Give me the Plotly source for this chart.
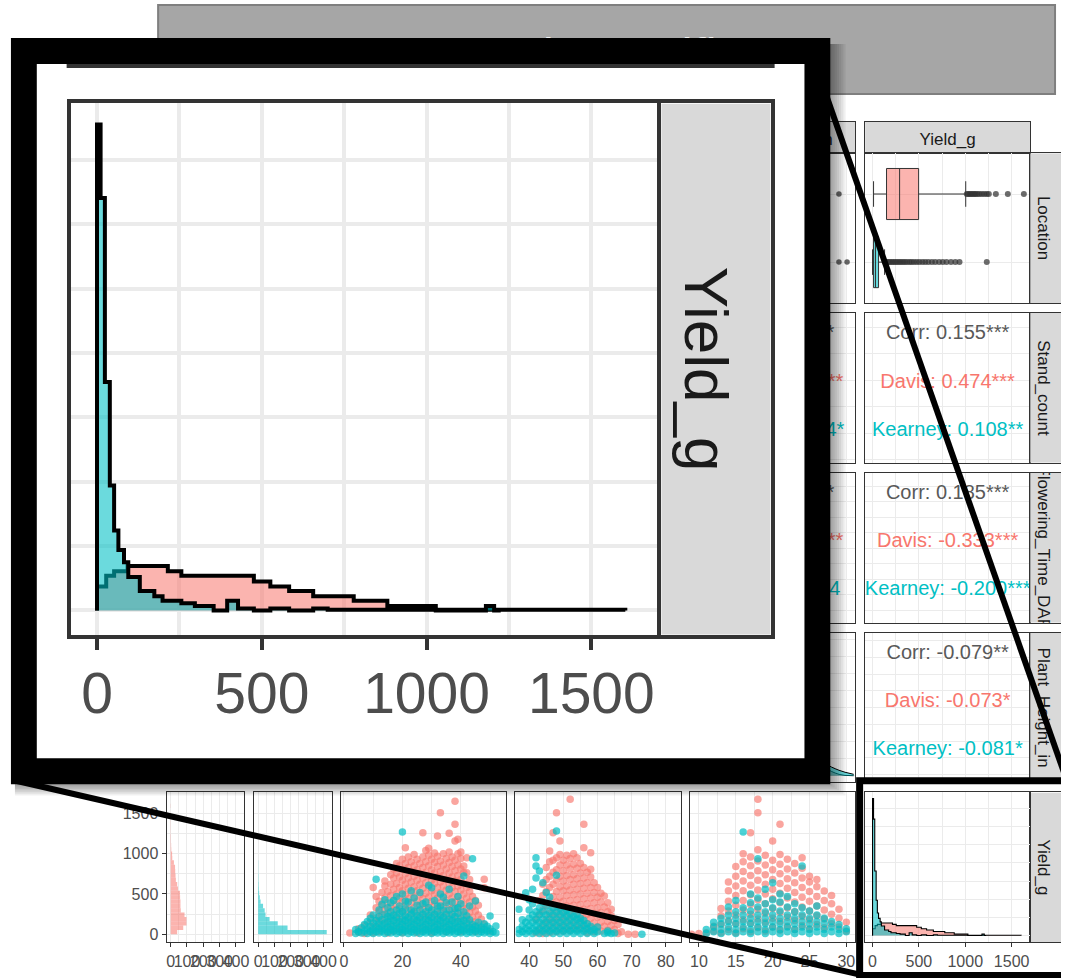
import plotly.graph_objects as go

W, H = 1066, 979
FONT = "Liberation Sans, Arial, sans-serif"
PINK, TEAL = "#F8766D", "#00BFC4"
PINK_FILL, TEAL_FILL = "rgba(248,118,109,0.55)", "rgba(0,191,196,0.58)"
PINK_PT, TEAL_PT = "rgba(248,118,109,0.66)", "rgba(0,191,196,0.7)"
GRID, BORDER, STRIP_BG = "#EBEBEB", "#333333", "#D9D9D9"
AX_TXT, STRIP_TXT, CORR_TXT = "#4D4D4D", "#1A1A1A", "#595959"

# ---------------- data ----------------
title_text = "Trait specific"
row_vars = ["Location", "Stand_count", "Flowering_Time_DAP", "Plant_Height_in", "Yield_g"]
top_strips = ["Plant_Height_in", "Yield_g"]

corr_yield_stand = ["Corr: 0.155***", "Davis: 0.474***", "Kearney: 0.108**"]
corr_yield_flower = ["Corr: 0.185***", "Davis: -0.333***", "Kearney: -0.200***"]
corr_yield_height = ["Corr: -0.079**", "Davis: -0.073*", "Kearney: -0.081*"]
corr_height_stand = ["Corr: 0.297***", "Davis: -0.351***", "Kearney: 0.094*"]
corr_height_flower = ["Corr: 0.172***", "Davis: -0.208***", "Kearney: 0.054"]

# boxplot Yield_g by Location (Davis, Kearney)
yield_q1 = [151, 11]
yield_median = [292, 32]
yield_q3 = [497, 65]
yield_lowerfence = [11, 0]
yield_upperfence = [1005, 130]
yield_out_davis = [1016, 1032, 1048, 1063, 1080, 1096, 1112, 1130, 1152, 1178, 1205, 1232, 1254, 1330, 1459, 1632]
yield_out_kearney = [136, 152, 171, 188, 207, 226, 246, 265, 287, 306, 328, 349, 372, 398, 421, 447,
                     476, 505, 538, 569, 602, 640, 676, 718, 757, 798, 846, 893, 938, 1232]
height_out_davis = [29.0]
height_out_kearney = [29.0, 30.1]

# histograms of Yield_g faceted by Location
hist_bin_mid = [27, 81, 135, 189, 243, 297, 351, 405, 459, 513, 567, 621, 675, 729, 783,
                837, 891, 945, 999, 1053, 1107, 1161, 1215, 1269, 1323, 1377, 1431, 1485, 1539, 1593]
hist_davis = [40, 77, 97, 97, 85, 62, 60, 60, 58, 57, 45, 40, 32, 30, 28, 27, 20, 10, 9, 4,
              3, 2, 2, 1, 1, 1, 1, 1, 0, 1]
hist_kearney = [420, 180, 120, 70, 45, 40, 30, 15, 10, 6, 4, 3, 2, 2, 1, 1, 1, 0, 0, 0,
                0, 0, 1, 0, 0, 0, 0, 0, 0, 0]

# density of Yield_g (diagonal)
dens_davis_x = [0, 0, 28, 52, 93, 215, 256, 476, 526, 583, 656, 779, 881, 1028, 1603]
dens_davis_y = [0, 0.37, 0.54, 0.61, 0.69, 0.61, 0.54, 0.45, 0.37, 0.30, 0.22, 0.15, 0.07, 0.01, 0.0]
dens_kearney_x = [0, 0, 11, 24, 39, 52, 65, 82, 95, 130, 174, 199, 256, 297, 354, 395, 428, 476,
                  526, 583, 656, 700, 779, 1028, 1180, 1205, 1225]
dens_kearney_y = [0, 7.55, 6.41, 3.55, 1.94, 1.24, 0.94, 0.75, 0.52, 0.30, 0.22, 0.15, 0.11, 0.07,
                  0.0, 0.15, 0.03, 0.0, 0.03, 0.0, 0.03, 0.01, 0.01, 0.0, 0.07, 0.0, 0.0]

# density of Plant_Height_in (diagonal, mostly hidden)
ph_grid = [9, 11, 13, 15, 17, 19, 21, 23, 25, 27, 29, 31]
ph_dens_davis = [0.0, 0.03, 0.15, 0.45, 0.8, 0.95, 0.9, 0.62, 0.3, 0.07, 0.01, 0.0]
ph_dens_kearney = [0.02, 0.1, 0.32, 0.62, 0.92, 1.0, 0.82, 0.55, 0.28, 0.1, 0.04, 0.01]

# scatter: Stand_count vs Yield_g
stand_davis = {2: [15], 5: [25, 70], 7: [10, 110], 9: [45, 150, 240], 10: [20, 95, 580],
    11: [90, 200, 330, 470], 12: [35, 160, 280, 410], 13: [120, 240, 360, 520],
    14: [60, 190, 310, 450, 600, 662], 15: [15, 140, 260, 390, 530],
    16: [95, 220, 340, 480, 620, 740], 17: [40, 170, 300, 420, 560, 700, 810],
    18: [110, 240, 370, 500, 630, 760, 880], 19: [60, 190, 320, 450, 580, 710, 850],
    20: [20, 150, 280, 410, 540, 670, 800, 930], 21: [100, 230, 360, 490, 620, 750, 880, 1075],
    22: [50, 180, 310, 440, 570, 700, 830, 960], 23: [130, 260, 390, 520, 650, 780, 900],
    24: [70, 200, 330, 460, 590, 720, 850, 990], 25: [20, 150, 280, 410, 540, 670, 800, 930],
    26: [100, 230, 360, 490, 620, 750, 880], 27: [50, 180, 310, 440, 570, 700, 830, 960, 1261],
    28: [120, 250, 380, 510, 640, 770, 900, 1040], 29: [70, 200, 330, 460, 590, 720, 850, 980, 1067],
    30: [20, 150, 280, 410, 540, 670, 800, 930], 31: [110, 240, 370, 500, 630, 760, 890, 1010],
    32: [60, 190, 320, 450, 580, 710, 840, 970, 1220], 33: [130, 260, 390, 520, 650, 780, 910, 1510],
    34: [80, 210, 340, 470, 600, 730, 860, 1000], 35: [30, 160, 290, 420, 550, 680, 810, 940],
    36: [110, 240, 370, 500, 630, 760, 890, 1022, 1253], 37: [60, 190, 320, 450, 580, 710, 840, 960],
    38: [140, 270, 400, 530, 660, 790, 920, 1158, 1365, 1650],
    39: [80, 210, 340, 470, 600, 730, 860, 1000, 1179], 40: [30, 160, 290, 420, 550, 680, 810, 940, 1022],
    41: [110, 240, 370, 500, 630, 765, 848], 42: [60, 190, 320, 450, 580, 765, 951],
    43: [140, 270, 400, 530, 680], 44: [80, 210, 340, 470], 45: [30, 160, 290, 420],
    46: [110, 240, 360], 47: [60, 190], 48: [120, 579, 682], 50: [40]}
stand_kearney = {4: [10, 60], 5: [30], 6: [15, 80], 7: [40, 120], 8: [10, 70, 160], 9: [30, 100, 200],
    10: [10, 60, 140, 240], 11: [35, 90, 170, 682], 12: [15, 70, 130, 220, 300], 13: [40, 100, 180, 372],
    14: [10, 65, 140, 250, 430], 15: [30, 90, 160, 220, 330], 16: [15, 60, 120, 200, 280, 390],
    17: [40, 100, 170, 240, 420], 18: [10, 70, 140, 210, 300, 470], 19: [30, 90, 160, 260, 350],
    20: [15, 60, 120, 190, 280, 500, 1270], 21: [40, 100, 170, 230, 320, 410], 22: [10, 70, 140, 210, 400],
    23: [30, 90, 160, 250, 300, 540], 24: [15, 60, 120, 190, 280, 450], 25: [40, 100, 170, 230, 360],
    26: [10, 70, 140, 210, 300, 520], 27: [30, 90, 160, 250, 380], 28: [15, 60, 120, 190, 280, 400],
    29: [40, 100, 170, 230, 330, 610], 30: [10, 70, 140, 210, 300, 579], 31: [30, 90, 160, 250, 420],
    32: [15, 60, 120, 190, 280, 350], 33: [40, 100, 170, 230, 350, 500], 34: [10, 70, 140, 210, 300, 460],
    35: [30, 90, 160, 250, 390], 36: [15, 60, 120, 190, 300, 560], 37: [40, 100, 170, 250, 400],
    38: [10, 70, 140, 220, 320], 39: [30, 90, 160, 260, 330, 470], 40: [15, 60, 120, 200, 380],
    41: [40, 100, 170, 280, 724], 42: [10, 70, 140, 230], 43: [30, 90, 180, 350], 44: [15, 60, 120, 939],
    45: [40, 100, 413], 46: [10, 70, 150], 47: [30, 90], 48: [15, 60, 130], 49: [40, 100],
    50: [10, 70, 227], 51: [30], 52: [15, 103]}

# scatter: Flowering_Time_DAP vs Yield_g
flower_davis = {42: [20, 180], 43: [60, 250, 420], 44: [10, 130, 300, 480, 620],
    45: [70, 190, 360, 530, 680, 830], 46: [20, 140, 260, 410, 580, 720, 900, 1034],
    47: [80, 200, 330, 470, 620, 770, 920, 1261], 48: [30, 150, 270, 400, 530, 670, 800, 950, 1510],
    49: [90, 210, 340, 460, 590, 720, 860, 990, 1158], 50: [40, 160, 280, 410, 540, 660, 790, 920],
    51: [100, 220, 350, 480, 600, 730, 860, 980], 52: [50, 170, 290, 420, 550, 680, 810, 940, 1675],
    53: [110, 230, 360, 490, 620, 740, 870, 1000], 54: [60, 180, 300, 430, 560, 690, 820, 950],
    55: [120, 240, 370, 500, 630, 760, 880], 56: [70, 190, 310, 440, 570, 700, 830, 1075, 1365],
    57: [20, 130, 250, 380, 510, 640, 770], 58: [80, 200, 320, 450, 580, 710, 806, 1013],
    59: [30, 140, 260, 390, 520, 640], 60: [90, 210, 330, 460, 580], 61: [40, 150, 270, 400, 510],
    62: [100, 220, 340, 476], 63: [50, 160, 280, 390], 64: [110, 230, 310], 65: [60, 170],
    66: [10, 120], 67: [30], 69: [0], 71: [0]}
flower_kearney = {37: [10, 60, 310], 38: [30, 100, 180], 39: [10, 70, 150, 517],
    40: [40, 110, 200, 300, 430], 41: [10, 70, 150, 240, 380, 560], 42: [40, 110, 190, 280, 700, 848, 951],
    43: [10, 70, 150, 240, 330, 786], 44: [40, 110, 190, 280, 400, 640], 45: [10, 70, 150, 240, 350, 520],
    46: [40, 110, 190, 280, 460], 47: [10, 70, 150, 240, 330], 48: [40, 110, 190, 280, 732, 1282],
    49: [10, 70, 150, 240, 320], 50: [40, 110, 190, 270], 51: [10, 70, 150, 230, 300],
    52: [40, 110, 190, 260], 53: [10, 70, 150, 220], 54: [40, 110, 190, 250], 55: [10, 70, 150, 200],
    56: [40, 110, 170], 57: [10, 70, 130], 58: [40, 100], 59: [10, 60], 60: [30, 90], 62: [10],
    63: [20, 40], 64: [10], 65: [15], 73: [0]}

# scatter: Plant_Height_in vs Yield_g
height_davis = {9: [0], 10: [10], 11: [20], 12: [40, 100], 13: [20, 120, 230, 320],
    14: [60, 170, 290, 410, 540, 650], 15: [20, 130, 240, 360, 480, 600, 720, 840],
    16: [70, 180, 300, 420, 540, 660, 780, 900, 1000], 17: [30, 140, 250, 370, 490, 610, 730, 850, 960, 1261],
    18: [80, 190, 310, 430, 550, 670, 790, 910, 1050, 1510, 1675],
    19: [40, 150, 260, 380, 500, 620, 740, 860, 980], 20: [90, 200, 320, 440, 560, 680, 800, 920, 1158],
    21: [50, 160, 270, 390, 510, 630, 750, 870, 990, 1365], 22: [100, 210, 330, 450, 570, 690, 810, 930],
    23: [60, 170, 280, 400, 520, 640, 760, 880], 24: [110, 220, 340, 460, 580, 700, 820, 950],
    25: [70, 180, 290, 410, 530, 650, 720], 26: [120, 230, 350, 470, 590, 680],
    27: [80, 190, 300, 420, 538], 28: [130, 250, 380, 480], 29: [90, 200, 310], 30: [40, 150]}
height_kearney = {11: [10, 60], 12: [30, 90, 150], 13: [10, 60, 130, 200], 14: [30, 90, 160, 240, 340],
    15: [10, 60, 130, 200, 280, 420], 16: [30, 90, 160, 240, 330, 1270],
    17: [10, 60, 130, 200, 290, 390, 500], 18: [30, 90, 160, 240, 340, 450, 939],
    19: [10, 60, 130, 200, 280, 380, 560], 20: [30, 90, 160, 240, 330, 430, 640],
    21: [10, 60, 130, 200, 290, 400, 500], 22: [30, 90, 160, 240, 340, 470],
    23: [10, 60, 130, 200, 280, 380], 24: [30, 90, 160, 240, 330, 848], 25: [10, 60, 130, 200, 290],
    26: [30, 90, 160, 240, 350], 27: [10, 60, 130, 200], 28: [30, 90, 160], 29: [10, 60, 120], 30: [30, 70]}


def flat(d):
    xs, ys = [], []
    for k, vals in d.items():
        for v in vals:
            xs.append(k)
            ys.append(v)
    return xs, ys


# ---------------- layout helpers ----------------
fig = go.Figure()
axes = {}
shapes = []
count = [0]


def new_sub(x0, x1, y0, y1, xr, yr, xa=None, ya=None):
    count[0] += 1
    k = count[0]
    s = "" if k == 1 else str(k)
    base = dict(showgrid=False, zeroline=False, showline=False, ticks="", showticklabels=False, fixedrange=True)
    xd = dict(base)
    xd.update(domain=[max(0, x0 / W), min(1, x1 / W)], range=xr, anchor="y" + s)
    yd = dict(base)
    yd.update(domain=[max(0, 1 - y1 / H), min(1, 1 - y0 / H)], range=yr, anchor="x" + s)
    if xa:
        xd.update(xa)
    if ya:
        yd.update(ya)
    axes["xaxis" + s] = xd
    axes["yaxis" + s] = yd
    return "x" + s, "y" + s


def gaxis(dtick=None, minor=None, tick0=0, lw=1.1, gw=1.0, mgw=0.6, vals=None):
    d = dict(showline=True, mirror=True, linecolor=BORDER, linewidth=lw, showgrid=True,
             gridcolor=GRID, gridwidth=gw)
    if vals is not None:
        d.update(tickmode="array", tickvals=vals)
    else:
        d.update(tickmode="linear", tick0=tick0, dtick=dtick)
    if minor:
        d["minor"] = dict(dtick=minor, tick0=tick0, showgrid=True, gridcolor=GRID, gridwidth=mgw)
    return d


def with_ticks(d, size=16, ticklen=4, tw=1):
    d.update(ticks="outside", ticklen=ticklen, tickwidth=tw, tickcolor=BORDER, showticklabels=True,
             tickangle=0, tickfont=dict(family=FONT, size=size, color=AX_TXT))
    return d


def strip(x0, x1, y0, y1, text, angle, size=17, right_open=False, lw=1.1, dx=0.0):
    xa = dict(showline=True, mirror=True, linecolor=BORDER, linewidth=lw)
    if right_open:
        ya = dict(showline=True, mirror=False, side="left", linecolor=BORDER, linewidth=lw)
    else:
        ya = dict(showline=True, mirror=True, linecolor=BORDER, linewidth=lw)
    xr, yr = new_sub(x0, x1, y0, y1, [0, 1], [0, 1], xa, ya)
    shapes.append(dict(type="rect", xref=xr, yref=yr, x0=0, x1=1, y0=0, y1=1, layer="below",
                       fillcolor=STRIP_BG, line=dict(width=0)))
    shapes.append(dict(type="rect", xref=xr, yref=yr, x0=0 + dx, x1=1 + dx, y0=0, y1=1, layer="below",
                       fillcolor="rgba(0,0,0,0)", line=dict(width=0),
                       label=dict(text=text, textangle=angle, textposition="middle center",
                                  font=dict(family=FONT, size=size, color=STRIP_TXT))))


def corr_text(xr, yr, xrange, yrange, labels, x_frac=0.5):
    fr = [0.14, 0.465, 0.785]
    xc = xrange[0] + x_frac * (xrange[1] - xrange[0])
    ys = [yrange[1] - f * (yrange[1] - yrange[0]) for f in fr]
    fig.add_trace(go.Scatter(x=[xc] * 3, y=ys, mode="text", text=labels, textposition="middle center",
                             textfont=dict(family=FONT, size=20, color=[CORR_TXT, PINK, TEAL]),
                             xaxis=xr, yaxis=yr, hoverinfo="skip"))


def density_traces(xr, yr, lw, shape="hv"):
    fig.add_trace(go.Scatter(x=dens_davis_x, y=dens_davis_y, mode="lines", line=dict(color="black", width=lw, shape=shape),
                             fill="tozeroy", fillcolor=PINK_FILL, xaxis=xr, yaxis=yr, hoverinfo="skip"))
    fig.add_trace(go.Scatter(x=dens_kearney_x, y=dens_kearney_y, mode="lines", line=dict(color="black", width=lw, shape=shape),
                             fill="tozeroy", fillcolor=TEAL_FILL, xaxis=xr, yaxis=yr, hoverinfo="skip"))


# geometry (pixels)
ROW_TOP = [153.3, 313.3, 473.3, 633.3, 793.3]
ROW_H = 150
C1A, C1B = (166.5, 244.5), (254.5, 332.5)
C2, C3, C4, C5 = (341.7, 507.7), (517.4, 683.4), (693.0, 859.0), (869.0, 1035.0)
STRIP_TOP = (121.7, 153.3)
RSTRIP = (1035.0, 1066.0)

R_YIELD = [-80, 1700]
R_YIELD_Y = [-100, 1760]
R_STAND = [-1.1, 55.4]
R_FLOWER = [36.0, 84.3]
R_HEIGHT = [8.8, 31.2]
R_LOC = [0.4, 2.6]
R_COUNT = [-25, 450]
R_DENS = [-0.38, 7.88]

# ---- 1. title box (background) ----
xt, yt = new_sub(156, 1062, 2, 97, [156, 1062], [97, 2])
shapes.append(dict(type="rect", xref=xt, yref=yt, x0=158, x1=1060, y0=5, y1=94, layer="below",
                   fillcolor="#A6A6A6", line=dict(color="#7F7F7F", width=2)))
shapes.append(dict(type="rect", xref=xt, yref=yt, x0=158, x1=1060, y0=6.5, y1=95.5, layer="below",
                   fillcolor="rgba(0,0,0,0)", line=dict(width=0),
                   label=dict(text=title_text, textposition="middle center",
                              font=dict(family=FONT, size=48, color="#F2F2F2"))))

# ---- 2. top strips ----
strip(C4[0], C4[1], STRIP_TOP[0], STRIP_TOP[1], top_strips[0], 0)
strip(C5[0], C5[1], STRIP_TOP[0], STRIP_TOP[1], top_strips[1], 0)

# ---- 3. column Plant_Height_in, rows 1-4 ----
xr, yr = new_sub(C4[0], C4[1], ROW_TOP[0], ROW_TOP[0] + ROW_H, R_HEIGHT, R_LOC,
                 gaxis(5, 2.5), gaxis(vals=[1, 2]))
fig.add_trace(go.Scatter(x=height_out_davis, y=[2] * len(height_out_davis), mode="markers",
                         marker=dict(color="rgba(51,51,51,0.75)", size=5.5), xaxis=xr, yaxis=yr))
fig.add_trace(go.Scatter(x=height_out_kearney, y=[1] * len(height_out_kearney), mode="markers",
                         marker=dict(color="rgba(51,51,51,0.75)", size=5.5), xaxis=xr, yaxis=yr))
xr, yr = new_sub(C4[0], C4[1], ROW_TOP[1], ROW_TOP[1] + ROW_H, R_HEIGHT, R_STAND, gaxis(5, 2.5), gaxis(20, 10))
corr_text(xr, yr, R_HEIGHT, R_STAND, corr_height_stand)
xr, yr = new_sub(C4[0], C4[1], ROW_TOP[2], ROW_TOP[2] + ROW_H, R_HEIGHT, R_FLOWER, gaxis(5, 2.5), gaxis(10, 5))
corr_text(xr, yr, R_HEIGHT, R_FLOWER, corr_height_flower)
xr, yr = new_sub(C4[0], C4[1], ROW_TOP[3], ROW_TOP[3] + ROW_H, R_HEIGHT, [-0.05, 1.05], gaxis(5, 2.5), gaxis(0.25, 0.125))
fig.add_trace(go.Scatter(x=ph_grid, y=ph_dens_davis, mode="lines", line=dict(color="black", width=1, shape="spline"),
                         fill="tozeroy", fillcolor=PINK_FILL, xaxis=xr, yaxis=yr))
fig.add_trace(go.Scatter(x=ph_grid, y=ph_dens_kearney, mode="lines", line=dict(color="black", width=1, shape="spline"),
                         fill="tozeroy", fillcolor=TEAL_FILL, xaxis=xr, yaxis=yr))

# ---- 4. column Yield_g, rows 1-4 ----
xr, yr = new_sub(C5[0], C5[1], ROW_TOP[0], ROW_TOP[0] + ROW_H, R_YIELD, R_LOC, gaxis(500, 250), gaxis(vals=[1, 2]))
for i, (pos, fc) in enumerate([(2, PINK_FILL), (1, TEAL_FILL)]):
    fig.add_trace(go.Box(orientation="h", y=[pos], q1=[yield_q1[i]], median=[yield_median[i]], q3=[yield_q3[i]],
                         lowerfence=[yield_lowerfence[i]], upperfence=[yield_upperfence[i]], width=0.75,
                         fillcolor=fc, line=dict(color=BORDER, width=1), boxpoints=False,
                         xaxis=xr, yaxis=yr, hoverinfo="skip"))
fig.add_trace(go.Scatter(x=yield_out_davis, y=[2] * len(yield_out_davis), mode="markers",
                         marker=dict(color="rgba(51,51,51,0.72)", size=6), xaxis=xr, yaxis=yr))
fig.add_trace(go.Scatter(x=yield_out_kearney, y=[1] * len(yield_out_kearney), mode="markers",
                         marker=dict(color="rgba(51,51,51,0.72)", size=6), xaxis=xr, yaxis=yr))
xr, yr = new_sub(C5[0], C5[1], ROW_TOP[1], ROW_TOP[1] + ROW_H, R_YIELD, R_STAND, gaxis(500, 250), gaxis(20, 10))
corr_text(xr, yr, R_YIELD, R_STAND, corr_yield_stand)
xr, yr = new_sub(C5[0], C5[1], ROW_TOP[2], ROW_TOP[2] + ROW_H, R_YIELD, R_FLOWER, gaxis(500, 250), gaxis(10, 5))
corr_text(xr, yr, R_YIELD, R_FLOWER, corr_yield_flower)
xr, yr = new_sub(C5[0], C5[1], ROW_TOP[3], ROW_TOP[3] + ROW_H, R_YIELD, R_HEIGHT, gaxis(500, 250), gaxis(5, 2.5))
corr_text(xr, yr, R_YIELD, R_HEIGHT, corr_yield_height)

# ---- 5. right strips ----
for i, name in enumerate(row_vars):
    strip(RSTRIP[0], RSTRIP[1], ROW_TOP[i], ROW_TOP[i] + ROW_H, name, 90, right_open=True)

# ---- 6. bottom row ----
yb = ROW_TOP[4], ROW_TOP[4] + ROW_H
xr, yr = new_sub(C1A[0], C1A[1], yb[0], yb[1], R_COUNT, R_YIELD_Y,
                 with_ticks(gaxis(100, 50)), with_ticks(gaxis(500, 250)))
fig.add_trace(go.Bar(orientation="h", y=hist_bin_mid, x=hist_davis, width=54,
                     marker=dict(color=PINK_FILL, line=dict(width=0)), xaxis=xr, yaxis=yr))
xr, yr = new_sub(C1B[0], C1B[1], yb[0], yb[1], R_COUNT, R_YIELD_Y, with_ticks(gaxis(100, 50)), gaxis(500, 250))
fig.add_trace(go.Bar(orientation="h", y=hist_bin_mid, x=hist_kearney, width=54,
                     marker=dict(color=TEAL_FILL, line=dict(width=0)), xaxis=xr, yaxis=yr))

for (cx, rng, dt, mn, dav, kea) in [(C2, R_STAND, 20, 10, stand_davis, stand_kearney),
                                    (C3, R_FLOWER, 10, 5, flower_davis, flower_kearney),
                                    (C4, R_HEIGHT, 5, 2.5, height_davis, height_kearney)]:
    xr, yr = new_sub(cx[0], cx[1], yb[0], yb[1], rng, R_YIELD_Y, with_ticks(gaxis(dt, mn)), gaxis(500, 250))
    dx, dy = flat(dav)
    kx, ky = flat(kea)
    fig.add_trace(go.Scatter(x=dx, y=dy, mode="markers", marker=dict(color=PINK_PT, size=7.5, line=dict(width=0)),
                             xaxis=xr, yaxis=yr, hoverinfo="skip"))
    fig.add_trace(go.Scatter(x=kx, y=ky, mode="markers", marker=dict(color=TEAL_PT, size=7.5, line=dict(width=0)),
                             xaxis=xr, yaxis=yr, hoverinfo="skip"))

xr, yr = new_sub(C5[0], C5[1], yb[0], yb[1], R_YIELD, R_DENS, with_ticks(gaxis(500, 250)), gaxis(1))
density_traces(xr, yr, 1.1)

# ---- 7. canvas: shadow, magnifier frame, connector lines, highlight ----
xc, yc = new_sub(0, W, 0, H, [0, W], [H, 0])


def poly(xs, ys, color):
    fig.add_trace(go.Scatter(x=xs, y=ys, mode="lines", fill="toself", fillcolor=color, line=dict(width=0),
                             xaxis=xc, yaxis=yc, hoverinfo="skip"))


def rect(x0, y0, x1, y1, color):
    poly([x0, x1, x1, x0, x0], [y0, y0, y1, y1, y0], color)


for k in range(1, 8):
    rect(14, 44, 834 + 2.2 * k, 785 + 1.6 * k, "rgba(0,0,0,0.06)")
rect(10, 38, 834, 785, "#000000")
rect(36, 64, 808, 759, "#FFFFFF")
rect(66, 64, 778, 68, BORDER)


def seg(xs, ys, w):
    fig.add_trace(go.Scatter(x=xs, y=ys, mode="lines", line=dict(color="black", width=w),
                             xaxis=xc, yaxis=yc, hoverinfo="skip"))


seg([1075, 863.5, 863.5, 1075], [781.5, 781.5, 976.5, 976.5], 7)
seg([822, 1080], [73, 804.5], 6)
seg([14, 866], [781.3, 976.1], 6)

# ---- 8. magnified panel ----
ix = with_ticks(gaxis(500, 250, lw=4, gw=3.6, mgw=3.6), size=57, ticklen=11, tw=4)
ix["ticklabelstandoff"] = -5
xr, yr = new_sub(70, 660, 103.5, 635.5, R_YIELD, R_DENS, ix, gaxis(1, lw=4, gw=3.6))
density_traces(xr, yr, 4)
strip(664, 774, 103.5, 635.5, "Yield_g", 90, size=62, lw=4, dx=-0.03)

fig.update_layout(width=W, height=H, margin=dict(l=0, r=0, t=0, b=0), showlegend=False,
                  paper_bgcolor="white", plot_bgcolor="rgba(0,0,0,0)", barmode="overlay",
                  font=dict(family=FONT), shapes=shapes, **axes)
fig.write_html("out.html")
